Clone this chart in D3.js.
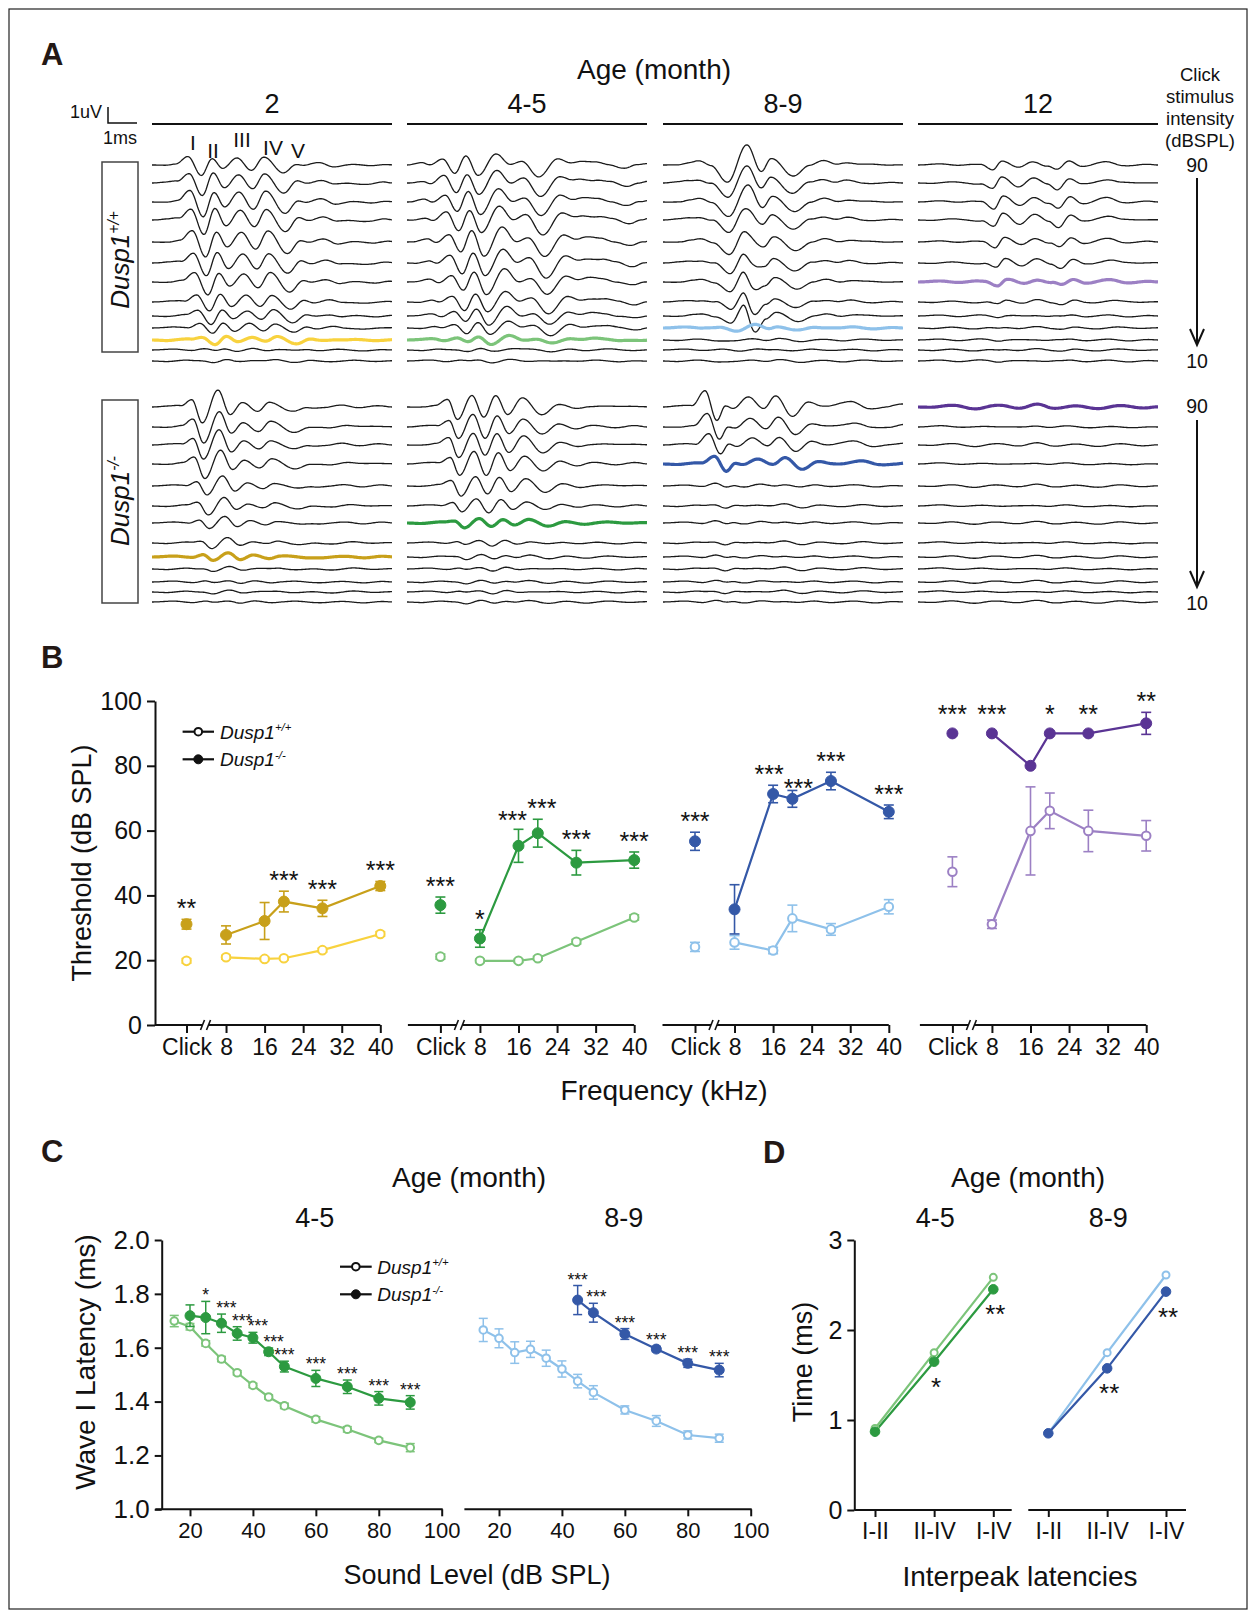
<!DOCTYPE html>
<html><head><meta charset="utf-8">
<script src="https://cdn.jsdelivr.net/npm/d3@7"></script>
<style>
body{margin:0;background:#fff}
svg{display:block}
text{font-family:"Liberation Sans",Arial,Helvetica,sans-serif;fill:#111}
</style>
</head><body>
<svg id="c" width="1256" height="1616"></svg>
<script>
// ================= DATA =================
const ageLabels = ["2","4-5","8-9","12"];
const waveLabels = ["I","II","III","IV","V"];
const wtColors = ["#f8d23e","#7cc47a","#8ec1ea","#9c80c4"];
const koColors = ["#c8a01a","#2c9a40","#3458a7","#5a3494"];
// index (0 = 90 dB, top) of the highlighted threshold trace
const wtThresholdRow = [10,10,9,6];
const koThresholdRow = [8,6,3,0];

// ABR waveform templates: [time (ms), amplitude]
const tplWT2  = [[0,0],[0.5,0.4],[1.0,1.4],[1.5,11],[2.05,-14],[2.5,10],[2.95,-5.5],[3.55,10],[4.15,-7],[4.65,10],[5.45,-11],[6.0,1.4],[6.35,-0.7],[7.0,3.5],[7.6,-1.4],[8.3,-0.4],[9.0,-0.7],[9.6,0.7],[10,0]];
const tplWT45 = [[0,0],[0.6,2],[0.95,-0.7],[1.5,7],[2.0,-9],[2.45,9],[2.95,-12],[3.7,13],[4.3,0],[4.8,4],[5.5,-13],[6.3,6],[6.8,3],[7.2,4.5],[7.8,3],[8.4,0.7],[9.1,-3],[9.6,0],[10,1.5]];
const tplWT89 = [[0,0],[0.6,0.7],[1.1,2],[1.5,3.5],[2.0,0],[2.7,-17],[3.5,20],[4.1,-6],[4.5,6],[5.4,-11],[6.1,0],[6.7,4],[7.2,1.5],[7.6,3],[8.3,0],[9.0,0.5],[10,0]];
const tplWT89b = [[0,0],[2.6,0],[3.1,10],[3.6,-26],[4.1,0],[10,0]];
const tplWT12 = [[0,0],[1,0.3],[2,0.5],[2.6,-0.5],[3.1,-6],[3.5,6],[4.2,-3.5],[4.8,4],[5.4,-1],[5.8,-6],[6.3,4],[6.8,-1],[7.8,3.5],[8.5,0],[9.3,0.5],[10,0]];
const tplKO2  = [[0,0],[0.7,0.3],[1.2,1],[1.66,8],[2.1,-16],[2.75,16],[3.25,-7],[3.75,5],[4.4,-5],[4.9,5],[5.9,-5],[6.5,-1],[7.2,0],[7.9,1.4],[8.5,0],[9.2,1.2],[10,0]];
const tplKO45 = [[0,0],[0.8,0.7],[1.2,1.3],[1.7,8],[2.1,-13],[2.7,13],[3.2,-12],[3.7,13],[4.2,-8],[4.8,9],[5.6,-8],[6.3,2.6],[7.0,-1.3],[7.6,1.3],[8.5,0],[9.3,1.3],[10,0]];
const tplKO89 = [[0,0],[0.6,0.5],[1.2,1],[1.75,17],[2.25,-14],[2.6,0],[2.9,-2],[3.55,11],[4.2,-2],[4.7,11],[5.4,-9],[6.05,4],[6.6,1],[7.8,5],[8.6,-1],[9.3,0],[10,3]];
const tplKO12 = [[0,0],[1.5,0.8],[2.5,-0.8],[3.5,1.2],[4.3,-0.8],[5.0,1.5],[5.6,-0.5],[6.5,0.5],[7.5,-0.5],[8.5,0.5],[9.5,-0.5],[10,0]];
const noiseA = [[0,0],[0.9,0.8],[1.7,-0.6],[2.6,1],[3.5,-0.8],[4.3,0.6],[5.2,-0.5],[6.1,0.9],[7.0,-0.6],[7.9,0.5],[8.8,-0.8],[9.6,0.4],[10,0]];
const noiseB = [[0,0],[0.6,-0.5],[1.4,0.7],[2.3,-0.9],[3.1,0.6],[4.0,-0.5],[4.9,1],[5.8,-0.7],[6.6,0.5],[7.5,-0.9],[8.4,0.8],[9.3,-0.4],[10,0.2]];

// per-trace amplitude and latency shift (ms), 13 stimulus levels, 90 dB first
const ampWT2  = [0.7,0.9,1.0,1.05,1.0,0.95,0.85,0.7,0.55,0.45,0.3,0.1,0.08];
const shiftWT2 = [0,0.05,0.08,0.12,0.18,0.22,0.28,0.35,0.42,0.48,0.6,0.6,0.6];
const ampWT45 = [0.9,1.0,1.05,1.1,1.15,1.1,1.0,0.85,0.7,0.55,0.3,0.1,0.08];
const shiftWT45 = [0,0.05,0.1,0.15,0.25,0.3,0.35,0.4,0.45,0.5,0.55,0.6,0.6];
const ampWT89 = [1,0.9,0.85,0.8,0.75,0.7,0.6,0.5,0.45,0.2,0.08,0.06,0.06];
const ampWT89b = [0,0,0,0.2,0.35,0.5,0.65,0.8,0.9,0,0,0,0];
const shiftWT89 = [0,0,0.05,0.05,0.1,0.12,0.15,0.18,0.2,0.3,0.3,0.3,0.3];
const ampWT12 = [0.8,1,1.15,1.15,0.9,0.8,0.55,0.35,0.15,0.1,0.08,0.08,0.08];
const shiftWT12 = [0,0,0.05,0.05,0.1,0.15,0.2,0.2,0.2,0.2,0.2,0.2,0.2];
const ampKO2  = [1,0.95,0.9,0.85,0.6,0.5,0.4,0.3,0.28,0.12,0.1,0.08,0.08];
const shiftKO2 = [0,0.05,0.05,0.1,0.2,0.25,0.3,0.4,0.45,0.5,0.5,0.5,0.5];
const ampKO45 = [0.9,0.9,0.9,0.9,0.7,0.5,0.3,0.18,0.14,0.1,0.08,0.08,0.08];
const shiftKO45 = [0,0.05,0.05,0.1,0.15,0.2,0.3,0.35,0.4,0.4,0.4,0.4,0.4];
const ampKO89 = [1,0.8,0.7,0.5,0.15,0.12,0.12,0.1,0.1,0.1,0.08,0.08,0.08];
const shiftKO89 = [0,0.1,0.15,0.4,0.4,0.4,0.4,0.4,0.4,0.4,0.4,0.4,0.4];
const ampKO12 = [1.2,0.8,0.8,0.6,0.5,0.5,0.4,0.5,0.4,0.4,0.4,0.4,0.4];
const shiftKO12 = [0,0,0,0,0,0,0,0,0,0,0,0,0];

// Panel B: thresholds (dB SPL)
const testFreqs = [8,16,20,28,40];
const freqTickValues = [8,16,24,32,40];
const bWtClick = [19.8,21.1,24.1,47.3];
const bWtClickErr = [0.7,0.8,1.4,4.6];
const bKoClick = [31.1,37.0,56.7,90];
const bKoClickErr = [1.5,2.5,2.8,0];
const bWt = [[20.9,20.4,20.6,23.1,28.1],[19.8,19.8,20.6,25.7,33.2],[25.5,23.0,32.9,29.5,36.5],[31.1,59.9,66.1,59.9,58.4]];
const bWtErr = [[0.6,0.5,0.5,0.6,0.7],[0.5,0.5,0.6,0.7,0.8],[2.1,1.0,4.1,1.8,2.2],[1.3,13.6,5.5,6.4,4.7]];
const bKo = [[27.8,32.1,38.1,36.0,42.9],[26.7,55.3,59.2,50.1,50.9],[35.7,71.3,69.8,75.3,65.8],[90,80,90,90,93.1]];
const bKoErr = [[2.8,5.7,3.2,2.5,1.4],[2.7,5.1,4.3,3.8,2.5],[7.6,2.7,2.6,2.7,2.1],[0,0,0,0,3.4]];
const bKoClickStars = ["**","***","***","***"];
const bKoStars = [["","","***","***","***"],["*","***","***","***","***"],["","***","***","***","***"],["***","","*","**","**"]];

// Panel C: wave I latency (ms)
const cLevelsWt = [15,20,25,30,35,40,45,50,60,70,80,90];
const c45Wt = [1.699,1.678,1.616,1.558,1.507,1.460,1.417,1.384,1.334,1.297,1.256,1.229];
const c45WtErr = [0.021,0.012,0.01,0.01,0.008,0.008,0.008,0.01,0.01,0.01,0.008,0.015];
const cLevelsKo45 = [20,25,30,35,40,45,50,60,70,80,90];
const c45Ko = [1.719,1.712,1.691,1.653,1.637,1.585,1.530,1.486,1.455,1.412,1.397];
const c45KoErr = [0.04,0.06,0.034,0.025,0.02,0.014,0.02,0.03,0.025,0.025,0.025];
const c45Stars = ["","*","***","***","***","***","***","***","***","***","***"];
const c89Wt = [1.666,1.635,1.582,1.594,1.561,1.521,1.476,1.434,1.369,1.328,1.276,1.264];
const c89WtErr = [0.043,0.035,0.04,0.03,0.03,0.03,0.025,0.025,0.015,0.02,0.015,0.015];
const cLevelsKo89 = [45,50,60,70,80,90];
const c89Ko = [1.777,1.730,1.651,1.595,1.542,1.517];
const c89KoErr = [0.054,0.035,0.02,0.01,0.015,0.025];
const c89Stars = ["***","***","***","***","***","***"];
const cTicksX = [20,40,60,80,100];
const cTicksY = [1.0,1.2,1.4,1.6,1.8,2.0];

// Panel D: interpeak latencies (ms)
const ipLabels = ["I-II","II-IV","I-IV"];
const d45Wt = [0.906,1.748,2.585];
const d45Ko = [0.870,1.648,2.452];
const d89Wt = [0.852,1.748,2.611];
const d89Ko = [0.852,1.574,2.426];
const d45Stars = ["","*","**"];
const d89Stars = ["","**","**"];
const dTicksY = [0,1,2,3];

// ================= DRAWING =================
const svg = d3.select("#c");
const INK = "#111";

function text(x, y, s, o = {}) {
  const t = svg.append("text").attr("x", x).attr("y", y).text(s)
    .attr("font-size", o.size || 20)
    .attr("text-anchor", o.anchor || "start");
  if (o.weight) t.attr("font-weight", o.weight);
  if (o.style) t.attr("font-style", o.style);
  if (o.rotate) t.attr("transform", `rotate(${o.rotate},${x},${y})`);
  if (o.fill) t.style("fill", o.fill);
  return t;
}
function dusp(x, y, sup, size, o = {}) {
  const t = svg.append("text").attr("x", x).attr("y", y)
    .attr("font-size", size).attr("font-style", "italic")
    .attr("text-anchor", o.anchor || "start");
  if (o.rotate) t.attr("transform", `rotate(${o.rotate},${x},${y})`);
  t.append("tspan").text("Dusp1");
  t.append("tspan").text(sup).attr("font-size", size * 0.6).attr("dy", -size * 0.38);
  return t;
}
function line(x1, y1, x2, y2, w = 2, c = INK) {
  svg.append("line").attr("x1", x1).attr("y1", y1).attr("x2", x2).attr("y2", y2)
    .attr("stroke", c).attr("stroke-width", w);
}

// frame
svg.append("rect").attr("x", 9).attr("y", 9).attr("width", 1238).attr("height", 1600)
  .attr("fill", "none").attr("stroke", "#222").attr("stroke-width", 1.2);

// panel letters
const LET = "#231815";
text(41, 65, "A", {size: 31, weight: "bold", fill: LET});
text(41, 668, "B", {size: 31, weight: "bold", fill: LET});
text(41, 1162, "C", {size: 31, weight: "bold", fill: LET});
text(763, 1163, "D", {size: 31, weight: "bold", fill: LET});

// ---------- Panel A ----------
const colX = [152, 407, 663, 918], colW = 240;
const rowY = [[165,183,202,220,242,263,282,302,316,328,340,350,361],
              [407,427,445,464,486,506,523,543,557,569,582,592,602]];
text(654, 79, "Age (month)", {size: 28, anchor: "middle"});
ageLabels.forEach((a, i) => {
  text(colX[i] + colW / 2, 113, a, {size: 27, anchor: "middle"});
  line(colX[i], 124, colX[i] + colW, 124, 2);
});
// scale bar
text(102, 118, "1uV", {size: 18, anchor: "end"});
text(137, 144, "1ms", {size: 18, anchor: "end"});
svg.append("path").attr("d", "M108,107 L108,123 L137,123").attr("fill", "none").attr("stroke", INK).attr("stroke-width", 1.5);
// wave labels
const wavePos = [[193,150],[213,158],[242,147],[273,155],[298,158]];
waveLabels.forEach((w, i) => text(wavePos[i][0], wavePos[i][1], w, {size: 21, anchor: "middle"}));
// genotype boxes
[[162, 352, "+/+", 260], [400, 603, "-/-", 501]].forEach(([y0, y1, sup, cy]) => {
  svg.append("rect").attr("x", 102).attr("y", y0).attr("width", 36).attr("height", y1 - y0)
    .attr("fill", "none").attr("stroke", "#444").attr("stroke-width", 1.5);
  dusp(129, cy, sup, 26, {anchor: "middle", rotate: -90});
});
// stimulus intensity labels
["Click", "stimulus", "intensity", "(dBSPL)"].forEach((s, i) => text(1200, 81 + i * 22, s, {size: 18.5, anchor: "middle"}));
function arrow(yTop, yBot) {
  line(1197, yTop, 1197, yBot, 2);
  svg.append("path").attr("d", `M1190,${yBot - 16} L1197,${yBot} L1204,${yBot - 16}`)
    .attr("fill", "none").attr("stroke", INK).attr("stroke-width", 2);
}
text(1197, 172, "90", {size: 19.5, anchor: "middle"});
arrow(178, 345);
text(1197, 368, "10", {size: 19.5, anchor: "middle"});
text(1197, 413, "90", {size: 19.5, anchor: "middle"});
arrow(420, 587);
text(1197, 610, "10", {size: 19.5, anchor: "middle"});

function cosInterp(knots, t) {
  if (t <= knots[0][0]) return knots[0][1];
  for (let i = 1; i < knots.length; i++) {
    if (t <= knots[i][0]) {
      const [t0, v0] = knots[i - 1], [t1, v1] = knots[i];
      const u = (t - t0) / (t1 - t0);
      return v0 + (v1 - v0) * (1 - Math.cos(Math.PI * u)) / 2;
    }
  }
  return knots[knots.length - 1][1];
}
const abrSets = [
  [ {tpl: tplWT2, amp: ampWT2, shift: shiftWT2},
    {tpl: tplWT45, amp: ampWT45, shift: shiftWT45},
    {tpl: tplWT89, tplB: tplWT89b, amp: ampWT89, ampB: ampWT89b, shift: shiftWT89},
    {tpl: tplWT12, amp: ampWT12, shift: shiftWT12} ],
  [ {tpl: tplKO2, amp: ampKO2, shift: shiftKO2},
    {tpl: tplKO45, amp: ampKO45, shift: shiftKO45},
    {tpl: tplKO89, amp: ampKO89, shift: shiftKO89},
    {tpl: tplKO12, amp: ampKO12, shift: shiftKO12} ]
];
const times = d3.range(0, 10.001, 0.05);
abrSets.forEach((group, g) => {
  group.forEach((set, c) => {
    const xs = d3.scaleLinear([0, 10], [colX[c], colX[c] + colW]);
    const hi = g === 0 ? wtThresholdRow[c] : koThresholdRow[c];
    const hiColor = g === 0 ? wtColors[c] : koColors[c];
    set.amp.forEach((a, r) => {
      const y0 = rowY[g][r];
      const s = set.shift[r];
      const nz = (r + c + g) % 2 ? noiseA : noiseB;
      const pts = times.map(t => {
        let v = a * cosInterp(set.tpl, t - s) + 1.1 * cosInterp(nz, t);
        if (set.tplB) v += set.ampB[r] * cosInterp(set.tplB, t - s);
        return [t, v];
      });
      const isHi = r === hi;
      svg.append("path")
        .attr("d", d3.line().x(d => xs(d[0])).y(d => y0 - d[1])(pts))
        .attr("fill", "none")
        .attr("stroke", isHi ? hiColor : "#1a1a1a")
        .attr("stroke-width", isHi ? 3.2 : 1.3)
        .attr("stroke-linejoin", "round");
    });
  });
});

// ---------- Panel B ----------
const bY = d3.scaleLinear([0, 100], [1025, 701]);
const bClickX = [186.5, 440.4, 695, 952.4];
const CLICK_POS = -0.2; // axis position of the click stimulus (layout)
function styleAxis(g, fs) {
  g.selectAll("path,line").attr("stroke", INK).attr("stroke-width", 2);
  g.selectAll("text").attr("font-size", fs).style("fill", INK)
    .attr("font-family", "'Liberation Sans',Arial,sans-serif");
}
const axB = svg.append("g").attr("transform", "translate(155,0)")
  .call(d3.axisLeft(bY).tickValues([0,20,40,60,80,100]).tickSize(8).tickSizeOuter(0).tickPadding(5));
styleAxis(axB, 25);
text(91, 863, "Threshold (dB SPL)", {size: 27, anchor: "middle", rotate: -90});
text(664, 1100, "Frequency (kHz)", {size: 28, anchor: "middle"});

function errBar(x, yc, yLo, yHi, color, cap = 5, w = 1.6) {
  if (Math.abs(yLo - yHi) < 1) return;
  line(x, yLo, x, yHi, w, color);
  line(x - cap, yLo, x + cap, yLo, w, color);
  line(x - cap, yHi, x + cap, yHi, w, color);
}
function marker(x, y, color, open, r) {
  svg.append("circle").attr("cx", x).attr("cy", y).attr("r", open ? r - 0.7 : r)
    .attr("fill", open ? "#fff" : color).attr("stroke", color).attr("stroke-width", open ? 2 : 1);
}
// star nudges for crowded labels [panel-freq] -> [dx, dy]
const starNudge = {"1-1": [-6, 2], "1-2": [4, 0], "2-1": [-4, 0], "2-2": [6, 9]};

ageLabels.forEach((a, i) => {
  const fx = d3.scaleLinear([CLICK_POS, 40], [bClickX[i], bClickX[i] + 193.8]);
  const ax = svg.append("g").attr("transform", "translate(0,1025)")
    .call(d3.axisBottom(fx).tickValues([CLICK_POS, ...freqTickValues]).tickSize(8).tickSizeOuter(0)
      .tickPadding(6).tickFormat(d => d === CLICK_POS ? "Click" : d));
  ax.select(".domain").remove();
  styleAxis(ax, 23);
  const xStart = i === 0 ? 155 : bClickX[i] - 32.5;
  line(xStart, 1025, fx(40), 1025, 2);
  // break mark
  const bx = bClickX[i] + 19;
  svg.append("rect").attr("x", bx - 3).attr("y", 1021).attr("width", 6).attr("height", 8).attr("fill", "#fff");
  line(bx - 5, 1030, bx - 1, 1020, 1.6);
  line(bx + 1, 1030, bx + 5, 1020, 1.6);

  const wc = wtColors[i], kc = koColors[i];
  const lineGen = d3.line().x(d => fx(d[0])).y(d => bY(d[1]));
  svg.append("path").attr("d", lineGen(testFreqs.map((f, k) => [f, bWt[i][k]])))
    .attr("fill", "none").attr("stroke", wc).attr("stroke-width", 2.2);
  svg.append("path").attr("d", lineGen(testFreqs.map((f, k) => [f, bKo[i][k]])))
    .attr("fill", "none").attr("stroke", kc).attr("stroke-width", 2.2);
  const cx = fx(CLICK_POS);
  errBar(cx, 0, bY(bWtClick[i] - bWtClickErr[i]), bY(bWtClick[i] + bWtClickErr[i]), wc);
  marker(cx, bY(bWtClick[i]), wc, true, 5);
  errBar(cx, 0, bY(bKoClick[i] - bKoClickErr[i]), bY(bKoClick[i] + bKoClickErr[i]), kc);
  marker(cx, bY(bKoClick[i]), kc, false, 5.5);
  const cTop = bKoClickErr[i] === 0 ? bY(bKoClick[i]) - 10 : bY(bKoClick[i] + bKoClickErr[i]) - 2;
  text(cx, cTop, bKoClickStars[i], {size: 25, anchor: "middle"});
  testFreqs.forEach((f, k) => {
    const x = fx(f);
    errBar(x, 0, bY(bWt[i][k] - bWtErr[i][k]), bY(bWt[i][k] + bWtErr[i][k]), wc);
    marker(x, bY(bWt[i][k]), wc, true, 5);
    errBar(x, 0, bY(bKo[i][k] - bKoErr[i][k]), bY(bKo[i][k] + bKoErr[i][k]), kc);
    marker(x, bY(bKo[i][k]), kc, false, 5.5);
    if (bKoStars[i][k]) {
      const yTop = bKoErr[i][k] === 0 ? bY(bKo[i][k]) - 10 : bY(bKo[i][k] + bKoErr[i][k]) - 2;
      const nd = starNudge[i + "-" + k] || [0, 0];
      text(x + nd[0], yTop + nd[1], bKoStars[i][k], {size: 25, anchor: "middle"});
    }
  });
});
// legend
function legend(x0, y, open, sup, len, tx) {
  line(x0, y, x0 + len, y, 2.2);
  marker(x0 + len / 2, y, INK, open, 4.5);
  dusp(tx, y + 7, sup, 19);
}
legend(182.6, 731.7, true, "+/+", 31.4, 220);
legend(182.6, 759.3, false, "-/-", 31.4, 220);

// ---------- Panel C ----------
const cY = d3.scaleLinear([1, 2], [1509.3, 1240]);
const cOffsets = [0, 309];
text(469, 1187, "Age (month)", {size: 28, anchor: "middle"});
text(477, 1584, "Sound Level (dB SPL)", {size: 27, anchor: "middle"});
text(95, 1362, "Wave I Latency (ms)", {size: 28, anchor: "middle", rotate: -90});
const axCY = svg.append("g").attr("transform", "translate(161.7,0)")
  .call(d3.axisLeft(cY).tickValues(cTicksY).tickFormat(d3.format(".1f")).tickSize(7).tickSizeOuter(0).tickPadding(5));
styleAxis(axCY, 26);
const cPanels = [
  {title: "4-5", wt: c45Wt, wtErr: c45WtErr, koLv: cLevelsKo45, ko: c45Ko, koErr: c45KoErr, stars: c45Stars, wc: wtColors[1], kc: koColors[1]},
  {title: "8-9", wt: c89Wt, wtErr: c89WtErr, koLv: cLevelsKo89, ko: c89Ko, koErr: c89KoErr, stars: c89Stars, wc: wtColors[2], kc: koColors[2]}
];
cPanels.forEach((p, i) => {
  const cx = d3.scaleLinear([20, 100], [190 + cOffsets[i], 441.7 + cOffsets[i]]);
  text(cx(60) - 1, 1227, p.title, {size: 27, anchor: "middle"});
  const ax = svg.append("g").attr("transform", "translate(0,1509.3)")
    .call(d3.axisBottom(cx).tickValues(cTicksX).tickSize(7).tickSizeOuter(0).tickPadding(6));
  ax.select(".domain").remove();
  styleAxis(ax, 22);
  line(cx(9), 1509.3, cx(100) + 1, 1509.3, 2);
  const lg = d3.line().x(d => cx(d[0])).y(d => cY(d[1]));
  svg.append("path").attr("d", lg(cLevelsWt.map((l, k) => [l, p.wt[k]])))
    .attr("fill", "none").attr("stroke", p.wc).attr("stroke-width", 2.2);
  svg.append("path").attr("d", lg(p.koLv.map((l, k) => [l, p.ko[k]])))
    .attr("fill", "none").attr("stroke", p.kc).attr("stroke-width", 2.2);
  cLevelsWt.forEach((l, k) => {
    errBar(cx(l), 0, cY(p.wt[k] - p.wtErr[k]), cY(p.wt[k] + p.wtErr[k]), p.wc, 4.5, 1.5);
    marker(cx(l), cY(p.wt[k]), p.wc, true, 4.5);
  });
  p.koLv.forEach((l, k) => {
    errBar(cx(l), 0, cY(p.ko[k] - p.koErr[k]), cY(p.ko[k] + p.koErr[k]), p.kc, 4.5, 1.5);
    marker(cx(l), cY(p.ko[k]), p.kc, false, 5);
    if (p.stars[k]) {
      const dx = (i === 0 && l >= 30 && l <= 45) ? 5 : (i === 1 && l === 50 ? 3 : 0);
      text(cx(l) + dx, cY(p.ko[k] + p.koErr[k]), p.stars[k], {size: 17.5, anchor: "middle"});
    }
  });
});
legend(340, 1266.7, true, "+/+", 31.7, 377.3);
legend(340, 1294.3, false, "-/-", 31.7, 377.3);

// ---------- Panel D ----------
const dY = d3.scaleLinear([0, 3], [1510, 1240]);
text(1028, 1187, "Age (month)", {size: 28, anchor: "middle"});
text(1020, 1586, "Interpeak latencies", {size: 28, anchor: "middle"});
text(812, 1362, "Time (ms)", {size: 27, anchor: "middle", rotate: -90});
const axDY = svg.append("g").attr("transform", "translate(854.3,0)")
  .call(d3.axisLeft(dY).tickValues(dTicksY).tickFormat(d3.format("d")).tickSize(7).tickSizeOuter(0).tickPadding(5));
styleAxis(axDY, 25);
const dPanels = [
  {title: "4-5", range: [875, 993.3], line: [854.3, 1011.7], wt: d45Wt, ko: d45Ko, stars: d45Stars, wc: wtColors[1], kc: koColors[1]},
  {title: "8-9", range: [1048.3, 1166], line: [1028.3, 1186], wt: d89Wt, ko: d89Ko, stars: d89Stars, wc: wtColors[2], kc: koColors[2]}
];
dPanels.forEach(p => {
  const dx = d3.scalePoint(ipLabels, p.range);
  text((p.range[0] + p.range[1]) / 2 + 1, 1227, p.title, {size: 27, anchor: "middle"});
  const ax = svg.append("g").attr("transform", "translate(0,1510)")
    .call(d3.axisBottom(dx).tickSize(7).tickSizeOuter(0).tickPadding(6));
  ax.select(".domain").remove();
  styleAxis(ax, 23);
  line(p.line[0], 1510, p.line[1], 1510, 2);
  const lg = d3.line().x(d => dx(d[0])).y(d => dY(d[1]));
  svg.append("path").attr("d", lg(ipLabels.map((l, k) => [l, p.wt[k]])))
    .attr("fill", "none").attr("stroke", p.wc).attr("stroke-width", 2.2);
  svg.append("path").attr("d", lg(ipLabels.map((l, k) => [l, p.ko[k]])))
    .attr("fill", "none").attr("stroke", p.kc).attr("stroke-width", 2.2);
  ipLabels.forEach((l, k) => {
    marker(dx(l), dY(p.wt[k]), p.wc, true, 4.2);
    marker(dx(l), dY(p.ko[k]), p.kc, false, 4.8);
    if (p.stars[k]) text(dx(l) + 2, dY(p.ko[k]) + 34, p.stars[k], {size: 26, anchor: "middle"});
  });
});
</script>
</body></html>
